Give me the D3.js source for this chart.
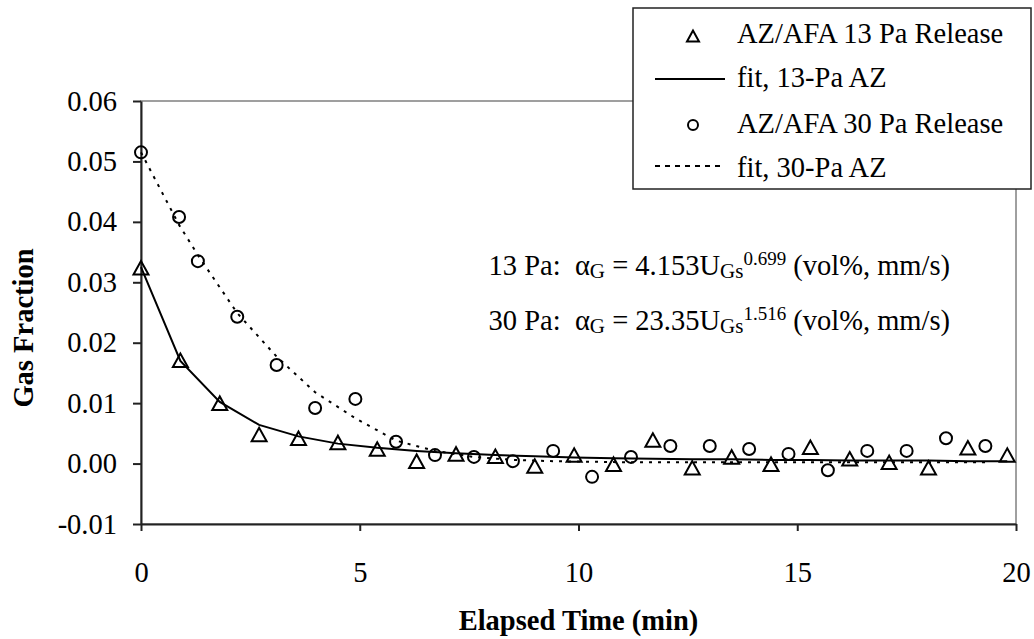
<!DOCTYPE html>
<html>
<head>
<meta charset="utf-8">
<script src="https://cdn.jsdelivr.net/npm/d3@7"></script>
<style>
  body { margin: 0; background: #fff; }
  svg { display: block; font-family: 'Liberation Serif', 'Times New Roman', serif; }
  .axis text { font-size: 28.5px; fill: #000; font-family: 'Liberation Serif', serif; }
  .axis path, .axis line { stroke: #222; stroke-width: 2; }
  .axis-title { font-size: 28.5px; font-weight: bold; fill: #000; }
  .note { font-size: 28.5px; fill: #000; white-space: pre; }
  .legend-text { font-size: 28.5px; fill: #000; }
</style>
</head>
<body>
<svg id="chart"></svg>
<script>
// AZ/AFA 13 Pa release: elapsed time (min), measured gas fraction, fitted curve
const time13 = [0, 0.9, 1.8, 2.7, 3.6, 4.5, 5.4, 6.3, 7.2, 8.1, 9.0, 9.9, 10.8, 11.7, 12.6, 13.5, 14.4, 15.3, 16.2, 17.1, 18.0, 18.9, 19.8];
const gas13 = [0.0324, 0.0171, 0.0100, 0.0048, 0.0042, 0.0035, 0.0024, 0.0004, 0.0016, 0.0012, -0.0004, 0.0014, -0.0001, 0.0039, -0.0007, 0.0011, -0.0001, 0.0027, 0.0008, 0.0002, -0.0007, 0.0026, 0.0014];
const fit13 = [0.0325, 0.0170, 0.0102, 0.0064, 0.0045, 0.0033, 0.0026, 0.0021, 0.0017, 0.0014, 0.0012, 0.0010, 0.0009, 0.0008, 0.0007, 0.0007, 0.0006, 0.0006, 0.0005, 0.0005, 0.0005, 0.0004, 0.0004];

// AZ/AFA 30 Pa release
const time30 = [0, 0.87, 1.3, 2.2, 3.1, 3.98, 4.9, 5.83, 6.72, 7.61, 8.5, 9.42, 10.31, 11.2, 12.1, 13.0, 13.9, 14.8, 15.7, 16.6, 17.5, 18.4, 19.3];
const gas30 = [0.0515, 0.0408, 0.0335, 0.0243, 0.0163, 0.0092, 0.0107, 0.0036, 0.0014, 0.0011, 0.0004, 0.0021, -0.0022, 0.0011, 0.0029, 0.0029, 0.0024, 0.0016, -0.0011, 0.0021, 0.0021, 0.0042, 0.0029];
const fit30 = [0.0515, 0.0395, 0.0345, 0.0249, 0.0177, 0.0118, 0.0075, 0.0038, 0.0021, 0.0011, 0.0006, 0.0004, 0.0003, 0.0002, 0.0002, 0.0002, 0.0002, 0.0002, 0.0002, 0.0002, 0.0002, 0.0002, 0.0002];

const xTicks = [0, 5, 10, 15, 20];
const yTicks = [-0.01, 0.00, 0.01, 0.02, 0.03, 0.04, 0.05, 0.06];
const legendLabels = ['AZ/AFA 13 Pa Release', 'fit, 13-Pa AZ', 'AZ/AFA 30 Pa Release', 'fit, 30-Pa AZ'];

const config = {
    containerWidth: 1034,
    containerHeight: 639,
    margin: {top: 101, right: 18, bottom: 115, left: 141}
};

const width = config.containerWidth - config.margin.left - config.margin.right;
const height = config.containerHeight - config.margin.top - config.margin.bottom;

const svg = d3.select('#chart')
    .attr('width', config.containerWidth)
    .attr('height', config.containerHeight);

const chart = svg.append('g')
    .attr('transform', `translate(${config.margin.left},${config.margin.top})`);

const xScale = d3.scaleLinear().domain([0, 20]).range([0, width]);
const yScale = d3.scaleLinear().domain([-0.01, 0.06]).range([height, 0]);

// Plot area border (grey, like Excel)
chart.append('rect')
    .attr('width', width)
    .attr('height', height)
    .attr('fill', 'none')
    .attr('stroke', '#808080')
    .attr('stroke-width', 1.5);

const xAxis = d3.axisBottom(xScale)
    .tickValues(xTicks)
    .tickFormat(d => String(d))
    .tickSize(7)
    .tickSizeOuter(0)
    .tickPadding(31);

const yAxis = d3.axisLeft(yScale)
    .tickValues(yTicks)
    .tickFormat(d => d.toFixed(2))
    .tickSize(8)
    .tickSizeOuter(0)
    .tickPadding(16);

chart.append('g')
    .attr('class', 'axis x-axis')
    .attr('transform', `translate(0,${height})`)
    .call(xAxis)
    .call(g => g.selectAll('text').attr('font-size', null).attr('font-family', null));

chart.append('g')
    .attr('class', 'axis y-axis')
    .call(yAxis)
    .call(g => g.selectAll('text').attr('font-size', null).attr('font-family', null));

// Axis titles
svg.append('text')
    .attr('class', 'axis-title')
    .attr('x', config.margin.left + width / 2)
    .attr('y', 630)
    .attr('text-anchor', 'middle')
    .text('Elapsed Time (min)');

svg.append('text')
    .attr('class', 'axis-title')
    .attr('transform', 'translate(33,328) rotate(-90)')
    .attr('text-anchor', 'middle')
    .text('Gas Fraction');

// Marker shapes
const triPath = (s) => `M0,${-s * 0.45}L${-s / 2},${s * 0.45}L${s / 2},${s * 0.45}Z`;

const line = d3.line()
    .x(d => xScale(d[0]))
    .y(d => yScale(d[1]));

// Fitted curves
chart.append('path')
    .datum(d3.zip(time13, fit13))
    .attr('d', line)
    .attr('fill', 'none')
    .attr('stroke', '#000')
    .attr('stroke-width', 2);

chart.append('path')
    .datum(d3.zip(time30, fit30))
    .attr('d', line)
    .attr('fill', 'none')
    .attr('stroke', '#000')
    .attr('stroke-width', 2)
    .attr('stroke-dasharray', '3,6');

// Measured points
chart.selectAll('.tri')
    .data(d3.zip(time13, gas13))
    .join('path')
    .attr('class', 'tri')
    .attr('transform', d => `translate(${xScale(d[0])},${yScale(d[1])})`)
    .attr('d', triPath(15))
    .attr('fill', 'none')
    .attr('stroke', '#000')
    .attr('stroke-width', 2);

chart.selectAll('.circ')
    .data(d3.zip(time30, gas30))
    .join('circle')
    .attr('class', 'circ')
    .attr('cx', d => xScale(d[0]))
    .attr('cy', d => yScale(d[1]))
    .attr('r', 6)
    .attr('fill', 'none')
    .attr('stroke', '#000')
    .attr('stroke-width', 2);

// Correlation notes
const notes = [
    {label: '13 Pa:  ', coef: ' = 4.153U', exp: '0.699', y: 275},
    {label: '30 Pa:  ', coef: ' = 23.35U', exp: '1.516', y: 330}
];

notes.forEach(n => {
    const t = svg.append('text')
        .attr('class', 'note')
        .attr('x', 950)
        .attr('y', n.y)
        .attr('text-anchor', 'end');
    t.append('tspan').text(n.label + '\u03B1');
    t.append('tspan').attr('font-size', 21).attr('dy', 3).text('G');
    t.append('tspan').attr('dy', -3).text(n.coef);
    t.append('tspan').attr('font-size', 21).attr('dy', 3).text('Gs');
    t.append('tspan').attr('font-size', 19).attr('dy', -13).text(n.exp);
    t.append('tspan').attr('dy', 10).text(' (vol%, mm/s)');
});

// Legend
const legend = svg.append('g').attr('class', 'legend');

legend.append('rect')
    .attr('x', 633)
    .attr('y', 8)
    .attr('width', 398)
    .attr('height', 181)
    .attr('fill', '#fff')
    .attr('stroke', '#222')
    .attr('stroke-width', 1.5);

const rowY = [43, 87, 133, 177];

legendLabels.forEach((lab, i) => {
    legend.append('text')
        .attr('class', 'legend-text')
        .attr('x', 737)
        .attr('y', rowY[i])
        .text(lab);
});

legend.append('path')
    .attr('transform', `translate(693,${rowY[0] - 7})`)
    .attr('d', triPath(12))
    .attr('fill', 'none')
    .attr('stroke', '#000')
    .attr('stroke-width', 2);

legend.append('line')
    .attr('x1', 655).attr('x2', 725)
    .attr('y1', rowY[1] - 8).attr('y2', rowY[1] - 8)
    .attr('stroke', '#000')
    .attr('stroke-width', 2);

legend.append('circle')
    .attr('cx', 693)
    .attr('cy', rowY[2] - 8)
    .attr('r', 5)
    .attr('fill', 'none')
    .attr('stroke', '#000')
    .attr('stroke-width', 2);

legend.append('line')
    .attr('x1', 655).attr('x2', 725)
    .attr('y1', rowY[3] - 11).attr('y2', rowY[3] - 11)
    .attr('stroke', '#000')
    .attr('stroke-width', 2)
    .attr('stroke-dasharray', '5,5');
</script>
</body>
</html>
